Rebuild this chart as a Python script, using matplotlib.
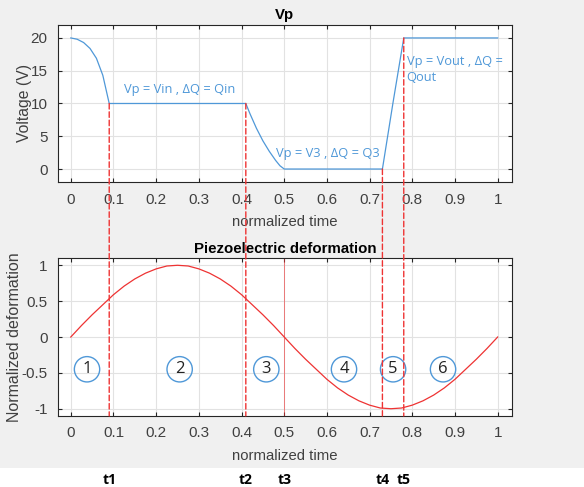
import matplotlib
matplotlib.use("Agg")
import matplotlib.pyplot as plt
from matplotlib.patches import ConnectionPatch, Rectangle

# Vp curve
vp_t = [0, 0.015, 0.03, 0.045, 0.06, 0.075, 0.09, 0.41, 0.42, 0.435, 0.45, 0.465,
        0.48, 0.49, 0.5, 0.73, 0.755, 0.78, 1.0]
vp_v = [20, 19.8, 19.3, 18.4, 16.9, 14.3, 10, 10, 8.4, 6.2, 4.3, 2.7,
        1.3, 0.5, 0, 0, 10.2, 20, 20]

# piezo deformation
def_t = [0, 0.025, 0.05, 0.075, 0.1, 0.125, 0.15, 0.175, 0.2, 0.225, 0.25,
         0.275, 0.3, 0.325, 0.35, 0.375, 0.4, 0.425, 0.45, 0.475, 0.5,
         0.525, 0.55, 0.575, 0.6, 0.625, 0.65, 0.675, 0.7, 0.725, 0.75,
         0.775, 0.8, 0.825, 0.85, 0.875, 0.9, 0.925, 0.95, 0.975, 1.0]
def_v = [0, 0.16, 0.31, 0.45, 0.59, 0.71, 0.81, 0.89, 0.95, 0.99, 1.0,
         0.99, 0.95, 0.89, 0.81, 0.71, 0.59, 0.45, 0.31, 0.16, 0,
         -0.16, -0.31, -0.45, -0.59, -0.71, -0.81, -0.89, -0.95, -0.99, -1.0,
         -0.99, -0.95, -0.89, -0.81, -0.71, -0.59, -0.45, -0.31, -0.16, 0]

# switching instants and the Vp value there
t_marks = [0.09, 0.41, 0.73, 0.78]
t_marks_v = [10, 10, 0, 20]
t_names = ["t1", "t2", "t3", "t4", "t5"]
t_names_x = [0.09, 0.41, 0.5, 0.73, 0.78]

phase_labels = ["1", "2", "3", "4", "5", "6"]
phase_x = [0.038, 0.255, 0.458, 0.64, 0.755, 0.872]

notes = ["Vp = Vin , ΔQ = Qin", "Vp = V3 , ΔQ = Q3", "Vp = Vout , ΔQ =\nQout"]
notes_xy = [(0.125, 12.1), (0.48, 2.4), (0.787, 15.2)]

plt.rcParams['font.family'] = ['Liberation Sans', 'DejaVu Sans']
blue = '#4f98d8'
red = '#ee3333'
grey_txt = '#404040'

fig = plt.figure(figsize=(5.84, 4.87), dpi=100, facecolor='#f0f0f0')
fig.patches.append(Rectangle((0, 0), 1, 0.038, transform=fig.transFigure,
                             facecolor='white', edgecolor='none', zorder=0))

ax1 = fig.add_axes([0.0993, 0.626, 0.777, 0.323])
ax2 = fig.add_axes([0.0993, 0.146, 0.777, 0.324])


def style(ax):
    ax.set_xlim(-0.03, 1.033)
    ax.set_xticks([0, 0.1, 0.2, 0.3, 0.4, 0.5, 0.6, 0.7, 0.8, 0.9, 1])
    ax.set_xticklabels(['0', '0.1', '0.2', '0.3', '0.4', '0.5', '0.6', '0.7',
                        '0.8', '0.9', '1'])
    ax.grid(True, color='#e2e2e2', linewidth=0.8)
    ax.set_axisbelow(True)
    ax.tick_params(direction='in', top=True, right=True, length=3,
                   labelsize=11, colors='#262626', labelcolor=grey_txt, pad=7.5)
    for s in ax.spines.values():
        s.set_color('#262626')
        s.set_linewidth(0.8)
    ax.set_xlabel('normalized time', fontsize=10.7, color=grey_txt, labelpad=6)


ax1.plot(vp_t, vp_v, color=blue, linewidth=0.9)
ax1.set_ylim(-2, 22)
ax1.set_yticks([0, 5, 10, 15, 20])
style(ax1)
ax1.set_ylabel('Voltage (V)', fontsize=11.3, color=grey_txt)
ax1.yaxis.set_label_coords(-0.058, 0.5)
ax1.set_title('Vp', fontsize=10.8, fontweight='bold', pad=4)
for txt, (x, y) in zip(notes, notes_xy):
    ax1.text(x, y, txt, color=blue, fontsize=9.3, family=['Open Sans', 'DejaVu Sans'],
             va='center', ha='left', linespacing=1.3)

ax2.plot(def_t, def_v, color=red, linewidth=0.9)
ax2.set_ylim(-1.1, 1.1)
ax2.set_yticks([-1, -0.5, 0, 0.5, 1])
ax2.set_yticklabels(['-1', '-0.5', '0', '0.5', '1'])
style(ax2)
ax2.set_ylabel('Normalized deformation', fontsize=11.5, color=grey_txt)
ax2.yaxis.set_label_coords(-0.08, 0.5)
ax2.set_title('Piezoelectric deformation', fontsize=10.8, fontweight='bold', pad=4)
ax2.axvline(0.5, color=red, linewidth=0.6, alpha=0.7)

for lab, x in zip(phase_labels, phase_x):
    ax2.text(x, -0.45, lab, fontsize=12, ha='center', va='center',
             family=['Open Sans', 'DejaVu Sans'], color='#222222',
             bbox=dict(boxstyle='circle,pad=0.28', facecolor='none',
                       edgecolor=blue, linewidth=1.0))

for x, v in zip(t_marks, t_marks_v):
    con = ConnectionPatch(xyA=(x, v), coordsA=ax1.transData,
                          xyB=(x, -1.1), coordsB=ax2.transData,
                          color=red, linestyle=(0, (4, 2)), linewidth=1.0)
    fig.add_artist(con)

for name, x in zip(t_names, t_names_x):
    fig.text(ax2.transData.transform((x, 0))[0] / fig.dpi / 5.84, 0.014, name,
             ha='center', va='center', fontsize=10, fontweight='bold',
             family=['Open Sans', 'DejaVu Sans'])

fig.savefig('out.png', dpi=100, facecolor=fig.get_facecolor())
